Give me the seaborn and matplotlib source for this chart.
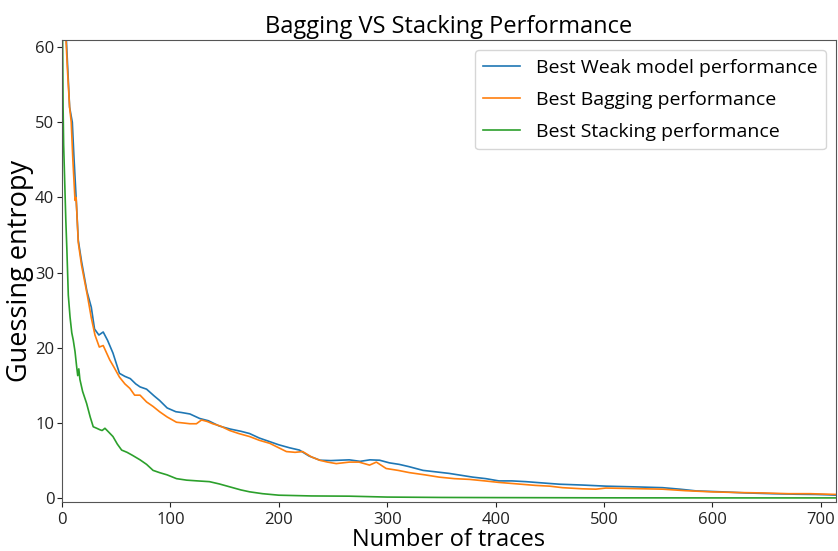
import matplotlib
matplotlib.use("Agg")
import matplotlib.pyplot as plt
import seaborn as sns
import pandas as pd

# ---- data ----
weak_x = [1, 3, 5, 7, 9.5, 11, 13, 15, 18, 20, 23, 27, 30, 34, 38, 42, 47, 53, 58, 63,
          68, 72, 78, 85, 90, 97, 105, 110, 118, 127, 135, 145, 155, 165, 173, 182, 192,
          200, 210, 219, 228, 238, 248, 256, 265, 275, 284, 293, 302, 311, 320, 333, 345,
          357, 368, 379, 391, 403, 415, 428, 446, 459, 480, 502, 530, 554, 570, 585, 608,
          631, 655, 677, 695, 707, 714]
weak_y = [80, 64, 58, 52, 50, 45.4, 40, 34.3, 31.5, 29.9, 27.5, 25.4, 22.5, 21.7, 22.1,
          21.0, 19.3, 16.6, 16.2, 15.9, 15.2, 14.8, 14.5, 13.6, 13.0, 12.0, 11.5, 11.4,
          11.2, 10.6, 10.3, 9.6, 9.2, 8.9, 8.6, 8.0, 7.5, 7.1, 6.7, 6.4, 5.6, 5.05, 5.0,
          5.05, 5.1, 4.9, 5.1, 5.05, 4.7, 4.5, 4.2, 3.7, 3.5, 3.3, 3.05, 2.8, 2.6, 2.3,
          2.3, 2.2, 2.0, 1.86, 1.75, 1.6, 1.5, 1.4, 1.2, 0.97, 0.85, 0.7, 0.6, 0.53, 0.5,
          0.45, 0.4]

bag_x = [1, 3, 5, 7, 8.5, 10, 12, 13, 15, 18, 20, 23.6, 27, 30.4, 34.4, 38, 44, 48, 53,
         58, 62.6, 67, 72, 78, 84, 90, 97, 105.6, 112, 118, 124, 128.7, 134, 139, 146,
         154.7, 163, 173, 182, 191.6, 200, 207, 215, 222, 230, 237.6, 245, 253, 265, 274,
         283.7, 290, 299, 310, 320.5, 335, 348, 362, 376, 390, 403, 420, 437, 450, 461.7,
         480, 492.5, 501.7, 520, 554, 575, 600, 625, 646, 670, 690, 707, 714]
bag_y = [80, 63, 57, 52, 50, 45, 39.6, 40, 34, 31, 29.5, 26.8, 24, 21.7, 20.1, 20.3,
         18.4, 17.4, 16.1, 15.2, 14.6, 13.7, 13.7, 12.8, 12.2, 11.5, 10.8, 10.1, 10.0,
         9.9, 9.9, 10.4, 10.2, 9.9, 9.6, 9.0, 8.6, 8.2, 7.7, 7.3, 6.7, 6.2, 6.1, 6.2, 5.5,
         5.05, 4.8, 4.6, 4.8, 4.8, 4.4, 4.8, 3.95, 3.7, 3.4, 3.1, 2.8, 2.6, 2.5, 2.3, 2.1,
         1.9, 1.7, 1.6, 1.4, 1.25, 1.2, 1.35, 1.3, 1.2, 1.0, 0.84, 0.75, 0.7, 0.6, 0.6,
         0.53, 0.5]

stack_x = [0.5, 1, 1.5, 2.5, 3.5, 4.5, 5.8, 7.4, 9, 10.4, 12, 13.5, 14.5, 15.5, 16.5,
           19, 22.7, 26, 28.8, 32, 35, 37, 39.6, 43, 47, 51, 55, 60, 65, 72, 78, 84, 90,
           97, 105.6, 115, 125, 136, 145, 155, 165, 173, 185, 200, 230, 265, 300, 350,
           400, 500, 600, 714]
stack_y = [62, 52, 47, 42, 37, 33, 27, 24.1, 22, 21, 19.5, 17.5, 16.3, 17.2, 15.8, 14.2,
           12.6, 10.8, 9.5, 9.3, 9.1, 9.0, 9.3, 8.8, 8.2, 7.2, 6.4, 6.1, 5.7, 5.1, 4.5,
           3.7, 3.4, 3.1, 2.6, 2.4, 2.3, 2.2, 1.9, 1.5, 1.1, 0.85, 0.6, 0.4, 0.3, 0.27,
           0.15, 0.1, 0.08, 0.05, 0.04, 0.04]

labels = ["Best Weak model performance", "Best Bagging performance",
          "Best Stacking performance"]

df = pd.concat([
    pd.DataFrame({"traces": weak_x, "ge": weak_y, "series": labels[0]}),
    pd.DataFrame({"traces": bag_x, "ge": bag_y, "series": labels[1]}),
    pd.DataFrame({"traces": stack_x, "ge": stack_y, "series": labels[2]}),
], ignore_index=True)

plt.rcParams["font.family"] = ["Open Sans", "DejaVu Sans"]

fig = plt.figure(figsize=(8.38, 5.51), dpi=100)
ax = fig.add_axes([0.074, 0.089, 0.9236, 0.838])

palette = ["#1f77b4", "#ff7f0e", "#2ca02c"]
sns.lineplot(data=df, x="traces", y="ge", hue="series", hue_order=labels,
             palette=palette, estimator=None, sort=True, linewidth=1.2, ax=ax)

ax.set_xlim(0, 714)
ax.set_ylim(-0.5, 60.9)
ax.set_xticks([0, 100, 200, 300, 400, 500, 600, 700])
ax.set_yticks([0, 10, 20, 30, 40, 50, 60])
ax.tick_params(labelsize=12, colors="#222222")
ax.tick_params(axis="y", pad=2)
for s in ax.spines.values():
    s.set_color("#555555")
ax.set_xlabel("Number of traces", fontsize=17, labelpad=0)
ax.set_ylabel("Guessing entropy", fontsize=19.5, labelpad=1)
ax.set_title("Bagging VS Stacking Performance", fontsize=17, pad=5)

handles, _ = ax.get_legend_handles_labels()
ax.legend(handles=handles, labels=labels, loc="upper right", fontsize=14,
          frameon=True, borderpad=0.45, labelspacing=0.72, handlelength=1.9,
          borderaxespad=0.5)

fig.savefig("out.png", dpi=100)
